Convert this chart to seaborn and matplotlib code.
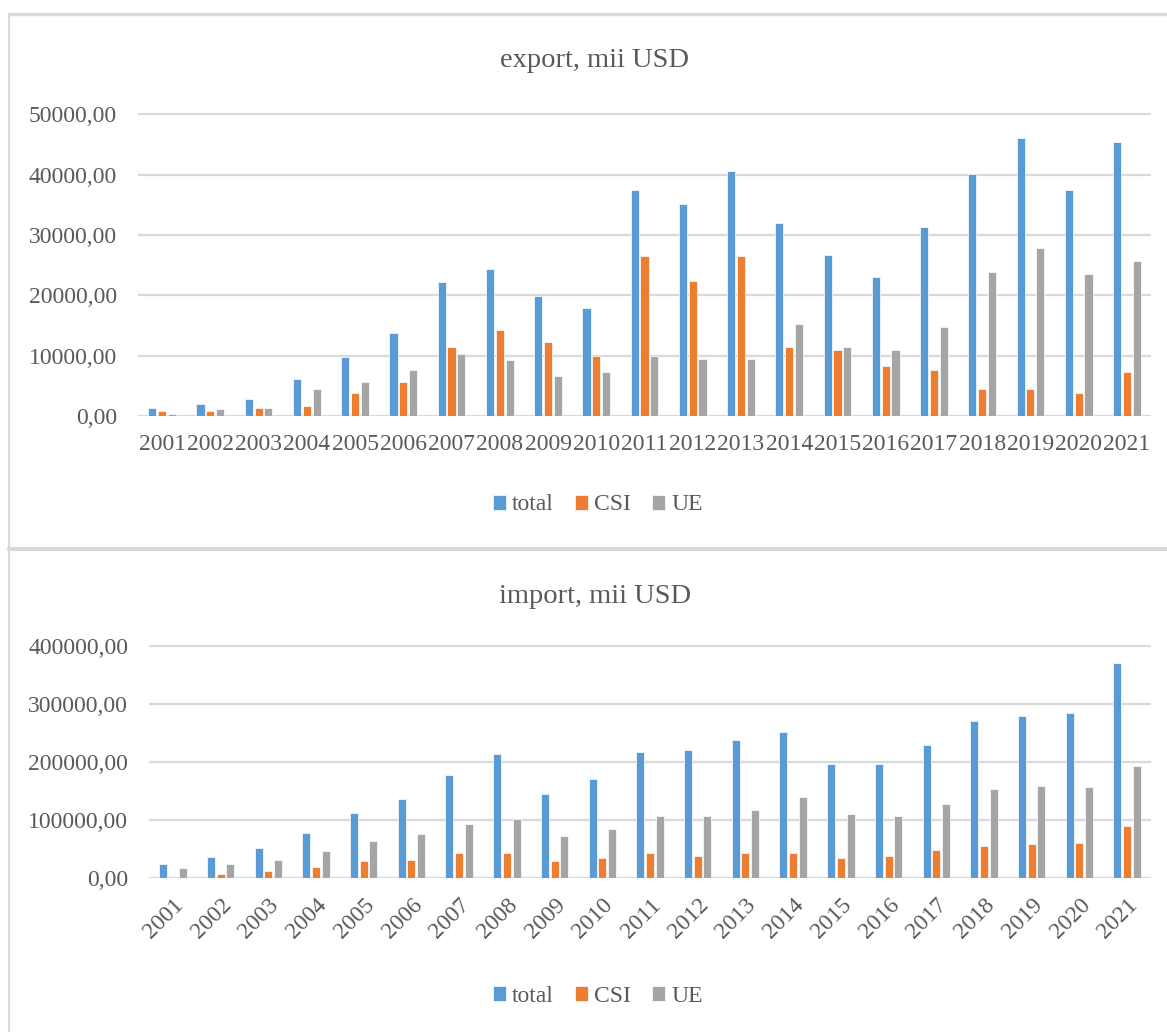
import matplotlib
matplotlib.use("Agg")
import matplotlib.pyplot as plt
from matplotlib.lines import Line2D
from matplotlib.ticker import FuncFormatter
import seaborn as sns
import pandas as pd

years = [str(y) for y in range(2001, 2022)]
series = ["total", "CSI", "UE"]
colors = ["#5B9BD5", "#ED7D31", "#A5A5A5"]

export_total = [1300, 2000, 2800, 6100, 9800, 13800, 22200, 24300, 19800, 17900,
                37500, 35100, 40600, 32000, 26700, 23100, 31300, 40100, 46100, 37500, 45400]
export_csi = [850, 850, 1300, 1600, 3750, 5700, 11400, 14300, 12300, 10000,
              26500, 22400, 26500, 11400, 10900, 8300, 7550, 4500, 4500, 3750, 7350]
export_ue = [400, 1100, 1300, 4400, 5700, 7550, 10200, 9250, 6600, 7350,
             10000, 9500, 9500, 15200, 11400, 10900, 14800, 23900, 27900, 23600, 25700]

import_total = [24000, 36500, 51000, 78000, 112500, 137000, 178000, 213000, 144000, 171000,
                217000, 220000, 237000, 252000, 196000, 196000, 230000, 271000, 279000, 284000, 370000]
import_csi = [0, 7000, 11500, 19000, 28500, 31500, 43500, 43500, 28500, 34000,
              43500, 38500, 43500, 43500, 34000, 38500, 48500, 55500, 58500, 60500, 90000]
import_ue = [16500, 24000, 31500, 46500, 63500, 75500, 92500, 102500, 73000, 85000,
             107500, 107500, 117000, 139000, 110000, 107500, 127000, 154000, 159000, 156000, 193000]

export_ticks = [0, 10000, 20000, 30000, 40000, 50000]
import_ticks = [0, 100000, 200000, 300000, 400000]


def long_df(total, csi, ue):
    rows = []
    for name, vals in zip(series, [total, csi, ue]):
        for y, v in zip(years, vals):
            rows.append({"year": y, "series": name, "value": v})
    return pd.DataFrame(rows)


sns.set_theme(style="white")
plt.rcParams["font.family"] = ["Liberation Serif", "DejaVu Serif"]
TXT = "#595959"
GRID = "#d9d9d9"

fig = plt.figure(figsize=(11.67, 10.32), dpi=100)
W, H = 1167, 1032


def fx(px):
    return px / W


def fy(py):
    return 1 - py / H


ax1 = fig.add_axes([fx(138), fy(416), fx(1151 - 138), (416 - 113) / H])
ax2 = fig.add_axes([fx(149), fy(878), fx(1151 - 149), (878 - 645) / H])

fmt = FuncFormatter(lambda v, p: f"{v:.2f}".replace(".", ","))

for ax, (tot, csi, ue), ticks, title, ty, ly, rot in [
    (ax1, (export_total, export_csi, export_ue), export_ticks, "export, mii USD", 67, 505, 0),
    (ax2, (import_total, import_csi, import_ue), import_ticks, "import, mii USD", 603, 996, 45),
]:
    df = long_df(tot, csi, ue)
    sns.barplot(data=df, x="year", y="value", hue="series", hue_order=series,
                palette=colors, width=0.61, gap=0.17, ax=ax,
                edgecolor="white", linewidth=0.5, saturation=1)
    handles, labels = ax.get_legend_handles_labels()
    if ax.get_legend() is not None:
        ax.get_legend().remove()
    ax.set_ylim(0, ticks[-1] * 1.004)
    ax.set_yticks(ticks)
    ax.yaxis.set_major_formatter(fmt)
    ax.grid(axis="y", color=GRID, linewidth=1.6)
    ax.grid(axis="x", visible=False)
    ax.set_axisbelow(True)
    for s in ax.spines.values():
        s.set_visible(False)
    ax.set_xlabel("")
    ax.set_ylabel("")
    ax.tick_params(axis="both", length=0, colors=TXT, labelsize=17)
    ax.tick_params(axis="y", pad=15)
    if rot:
        ax.tick_params(axis="x", pad=12)
        for lab in ax.get_xticklabels():
            lab.set_rotation(45)
            lab.set_ha("right")
            lab.set_rotation_mode("anchor")
    else:
        ax.tick_params(axis="x", pad=13)
    fig.text(fx(595), fy(ty), title, ha="center", va="baseline", fontsize=20.5, color=TXT)
    leg = fig.legend(handles, labels, loc="center", bbox_to_anchor=(fx(598), fy(ly)),
                     ncol=3, frameon=False, handlelength=0.55, handleheight=0.6,
                     handletextpad=0.25, columnspacing=0.9, fontsize=17)
    for t in leg.get_texts():
        t.set_color(TXT)

# panel frames
fig.add_artist(Line2D([fx(9), 1], [fy(14), fy(14)], transform=fig.transFigure, color=GRID, lw=2.5))
fig.add_artist(Line2D([fx(9), fx(9)], [fy(14), 0], transform=fig.transFigure, color=GRID, lw=1.5))
fig.add_artist(Line2D([fx(9), 1], [fy(549), fy(549)], transform=fig.transFigure, color=GRID, lw=3))

fig.savefig("out.png", dpi=100, facecolor="white")
